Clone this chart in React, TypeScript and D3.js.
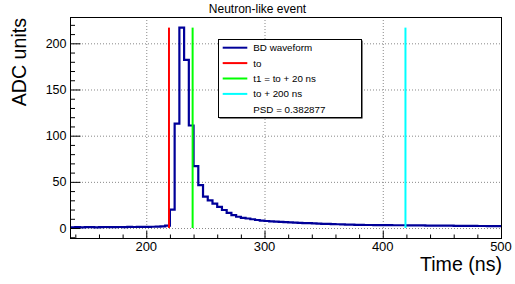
import React, { useEffect, useRef } from "react";
import * as d3 from "d3";

// bin start times (ns), 4 ns wide
const binWidth = 4;
const binStart = 136;
const adcValues = [
  0.8, 0.9, 0.8, 1.0, 0.9, 0.8, 1.0, 1.1, 0.9, 1.0, 1.1, 1.0, 1.2, 1.1, 1.2,
  1.3, 1.2, 1.4, 1.5, 1.8, 2.6,
  // pulse
  20, 113, 217, 182, 111, 67, 46.5, 34, 30, 26.5, 23, 19.5, 16.5, 14, 12.2,
  11, 10.3, 9.5, 8.7, 8.1, 7.6, 7.2, 6.9, 6.6, 6.3, 6.1, 5.9, 5.6, 5.4, 5.2,
  5.0, 4.8, 4.6, 4.4, 4.3, 4.1, 3.9, 3.7, 3.6, 3.5, 3.4, 3.3, 3.3, 3.2, 3.2,
  3.1, 3.1, 3.0, 3.0, 3.0, 2.9, 2.9, 2.8, 2.8, 2.7, 2.7, 2.6, 2.6, 2.5, 2.5,
  2.4, 2.4, 2.3, 2.3, 2.3, 2.2, 2.2, 2.1, 2.1, 2.1,
];

const to = 219.2;
const markers = [
  { t: to, color: "#ff0000" },
  { t: to + 20, color: "#00ff00" },
  { t: to + 200, color: "#00ffff" },
];

const legendItems = [
  { label: "BD waveform", color: "#000099" },
  { label: "to", color: "#ff0000" },
  { label: "t1 = to + 20 ns", color: "#00ff00" },
  { label: "to + 200 ns", color: "#00ffff" },
  { label: "PSD = 0.382877", color: null },
];

const xTicks = [200, 300, 400, 500];
const yTicks = [0, 50, 100, 150, 200];

const App = () => {
  const ref = useRef<SVGSVGElement>(null);

  useEffect(() => {
    const svg = d3.select(ref.current);
    svg.selectAll("*").remove();

    const width = 515;
    const height = 284;
    const margin = { top: 17, right: 14, bottom: 46, left: 70 };
    const font = "'Liberation Sans', Arial, sans-serif";

    svg.attr("width", width).attr("height", height);

    const x = d3
      .scaleLinear()
      .domain([135.5, 500])
      .range([margin.left, width - margin.right]);
    const y = d3
      .scaleLinear()
      .domain([-10.8, 228.5])
      .range([height - margin.bottom, margin.top]);

    const x0 = margin.left;
    const x1 = width - margin.right;
    const y0 = height - margin.bottom;
    const y1 = margin.top;

    // Grid
    const grid = svg.append("g").attr("stroke", "#888").attr("stroke-dasharray", "1,2");
    grid
      .selectAll("line.gx")
      .data(xTicks.filter((t) => t < 500))
      .enter()
      .append("line")
      .attr("x1", (d) => x(d) + 0.5)
      .attr("x2", (d) => x(d) + 0.5)
      .attr("y1", y1)
      .attr("y2", y0);
    grid
      .selectAll("line.gy")
      .data(yTicks)
      .enter()
      .append("line")
      .attr("x1", x0)
      .attr("x2", x1)
      .attr("y1", (d) => y(d) + 0.5)
      .attr("y2", (d) => y(d) + 0.5);

    // Waveform as a step histogram
    const pts: [number, number][] = [];
    adcValues.forEach((v, i) => {
      const a = Math.max(binStart + i * binWidth, 135.5);
      const b = binStart + (i + 1) * binWidth;
      pts.push([x(a), y(v)]);
      pts.push([x(b), y(v)]);
    });
    svg
      .append("path")
      .attr("d", d3.line()(pts))
      .attr("fill", "none")
      .attr("stroke", "#000099")
      .attr("stroke-width", 2.2);

    // Marker lines
    const vmax = d3.max(adcValues) as number;
    svg
      .selectAll("line.marker")
      .data(markers)
      .enter()
      .append("line")
      .attr("x1", (d) => x(d.t))
      .attr("x2", (d) => x(d.t))
      .attr("y1", y(0))
      .attr("y2", y(vmax))
      .attr("stroke", (d) => d.color)
      .attr("stroke-width", 2);

    // Frame
    svg
      .append("rect")
      .attr("x", x0 + 0.5)
      .attr("y", y1 + 0.5)
      .attr("width", x1 - x0)
      .attr("height", y0 - y1)
      .attr("fill", "none")
      .attr("stroke", "#000");

    // X axis ticks
    const xMinor = d3.range(140, 501, 20);
    svg
      .append("g")
      .selectAll("line")
      .data(xMinor)
      .enter()
      .append("line")
      .attr("x1", (d) => x(d) + 0.5)
      .attr("x2", (d) => x(d) + 0.5)
      .attr("y1", y0)
      .attr("y2", (d) => (d % 100 === 0 ? y0 - 7 : y0 - 3.5))
      .attr("stroke", "#000");
    svg
      .append("g")
      .selectAll("text")
      .data(xTicks)
      .enter()
      .append("text")
      .attr("x", (d) => x(d))
      .attr("y", 250.5)
      .attr("text-anchor", "middle")
      .attr("font-family", font)
      .attr("font-size", 13)
      .text((d) => d);

    // Y axis ticks
    const yMinor = d3.range(-10, 221, 10);
    svg
      .append("g")
      .selectAll("line")
      .data(yMinor)
      .enter()
      .append("line")
      .attr("x1", x0)
      .attr("x2", (d) => (d % 50 === 0 ? x0 + 10.5 : x0 + 5))
      .attr("y1", (d) => y(d) + 0.5)
      .attr("y2", (d) => y(d) + 0.5)
      .attr("stroke", "#000");
    svg
      .append("g")
      .selectAll("text")
      .data(yTicks)
      .enter()
      .append("text")
      .attr("x", 66.5)
      .attr("y", (d) => y(d))
      .attr("dy", "0.36em")
      .attr("text-anchor", "end")
      .attr("font-family", font)
      .attr("font-size", 12.5)
      .text((d) => d);

    // Title and axis titles
    svg
      .append("text")
      .attr("x", width / 2)
      .attr("y", 12.7)
      .attr("text-anchor", "middle")
      .attr("font-family", font)
      .attr("font-size", 12)
      .text("Neutron-like event");
    svg
      .append("text")
      .attr("x", x1 + 1)
      .attr("y", 271)
      .attr("text-anchor", "end")
      .attr("font-family", font)
      .attr("font-size", 19.6)
      .text("Time (ns)");
    svg
      .append("text")
      .attr("transform", `translate(25.5,${y1 + 1}) rotate(-90)`)
      .attr("text-anchor", "end")
      .attr("font-family", font)
      .attr("font-size", 19.6)
      .text("ADC units");

    // Legend
    const lg = { x: 218, y: 39, w: 143, h: 78 };
    svg
      .append("rect")
      .attr("x", lg.x + 1.5)
      .attr("y", lg.y + 1.5)
      .attr("width", lg.w)
      .attr("height", lg.h)
      .attr("fill", "#000");
    svg
      .append("rect")
      .attr("x", lg.x + 0.5)
      .attr("y", lg.y + 0.5)
      .attr("width", lg.w)
      .attr("height", lg.h)
      .attr("fill", "#fff")
      .attr("stroke", "#000");
    const rows = svg
      .append("g")
      .selectAll("g")
      .data(legendItems)
      .enter()
      .append("g")
      .attr("transform", (d, i) => `translate(0,${47.7 + i * 15.4})`);
    rows
      .filter((d) => d.color !== null)
      .append("line")
      .attr("x1", 222.7)
      .attr("x2", 247.3)
      .attr("stroke", (d) => d.color as string)
      .attr("stroke-width", 2);
    rows
      .append("text")
      .attr("x", 253.3)
      .attr("dy", "0.36em")
      .attr("font-family", font)
      .attr("font-size", 9.8)
      .text((d) => d.label);
  }, []);

  return (
    <svg
      ref={ref}
      style={{ position: "absolute", left: 0, top: 0, background: "#fff" }}
    ></svg>
  );
};

export default App;
